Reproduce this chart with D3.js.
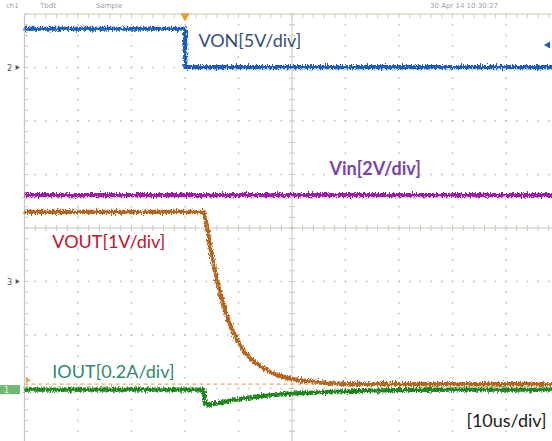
<!DOCTYPE html>
<html lang="en">
<head>
    <meta charset="UTF-8">
    <title>Load switch turn-off</title>
    <script src="https://d3js.org/d3.v7.min.js"></script>
    <style>
        body { margin: 0; background: #fff; }
        svg { display: block; }
    </style>
</head>
<body>
<script>
    // time in us, 10us/div, 10 divisions
    const timeRange = [0, 100];

    // VON (5V/div), ground at +3 div
    const vonTime = [0, 30, 30.05, 100];
    const vonVolt = [3.62, 3.62, 0.03, 0.03];

    // Vin (2V/div), ground at -1 div
    const vinTime = [0, 100];
    const vinVolt = [3.23, 3.23];

    // VOUT (1V/div), ground at -2.92 div
    const voutTime = [0, 33.4, 34.1, 35.0, 36.0, 37.0, 38.3, 40.0, 42.0, 45.0, 49.0, 55.0, 62.0, 100];
    const voutVolt = [3.22, 3.22, 2.95, 2.4, 1.95, 1.55, 1.15, 0.78, 0.5, 0.28, 0.12, 0.04, 0.0, 0.0];

    // IOUT (0.2A/div), ground at -3.02 div
    const ioutTime = [0, 33.4, 33.8, 34.6, 37.0, 42.0, 48.0, 55.0, 65.0, 80.0, 100];
    const ioutAmp = [0, 0, -0.054, -0.056, -0.046, -0.03, -0.018, -0.01, -0.004, 0, 0];

    const channels = [
        { name: "VON", time: vonTime, vals: vonVolt, perDiv: 5, offset: 3, color: "#1d5cba" },
        { name: "Vin", time: vinTime, vals: vinVolt, perDiv: 2, offset: -1, color: "#9c1fa6" },
        { name: "VOUT", time: voutTime, vals: voutVolt, perDiv: 1, offset: -2.92, color: "#b5651e" },
        { name: "IOUT", time: ioutTime, vals: ioutAmp, perDiv: 0.2, offset: -3.02, color: "#1e861e" }
    ];

    const labels = [
        { text: "VON[5V/div]", t: 32.5, div: 3.38, color: "#34507c", weight: "normal" },
        { text: "Vin[2V/div]", t: 57, div: 1.0, color: "#7a45a8", weight: "bold" },
        { text: "VOUT[1V/div]", t: 5.2, div: -0.38, color: "#c2132c", weight: "normal" },
        { text: "IOUT[0.2A/div]", t: 5.2, div: -2.8, color: "#2f8a6c", weight: "normal" },
        { text: "[10us/div]", t: 82.6, div: -3.72, color: "#222", weight: "normal" }
    ];

    const width = 552;
    const height = 441;

    const svg = d3.select("body").append("svg")
        .attr("width", width)
        .attr("height", height);

    const x = d3.scaleLinear().domain(timeRange).range([24.5, 559.5]);
    const y = d3.scaleLinear().domain([-4, 4]).range([442, 14]);

    // noise filter for the traces
    const defs = svg.append("defs");
    const f = defs.append("filter").attr("id", "noise")
        .attr("filterUnits", "userSpaceOnUse")
        .attr("x", 0).attr("y", 0).attr("width", width).attr("height", height);
    f.append("feTurbulence").attr("type", "fractalNoise")
        .attr("baseFrequency", "1.2 0.4").attr("numOctaves", 2).attr("seed", 3)
        .attr("result", "turb");
    f.append("feDisplacementMap").attr("in", "SourceGraphic").attr("in2", "turb")
        .attr("scale", 6).attr("xChannelSelector", "G").attr("yChannelSelector", "R");

    // faint header text at the top
    const header = svg.append("g").attr("fill", "#a0a0a0").attr("font-family", "DejaVu Sans")
        .attr("font-size", 7);
    header.append("text").attr("x", 6).attr("y", 8).text("ch1");
    header.append("text").attr("x", 40).attr("y", 8).text("Tbdt");
    header.append("text").attr("x", 96).attr("y", 8).text("Sample");
    header.append("text").attr("x", 430).attr("y", 8).text("30 Apr 14 10:30:27");

    // grid
    const grid = svg.append("g").attr("fill", "#c4c4c4");
    const majorT = d3.range(0, 101, 10);
    const majorD = d3.range(-4, 5, 1);
    const minorT = d3.range(0, 100.01, 2);
    const minorD = d3.range(-4, 4.01, 0.2);

    majorT.forEach(t => {
        if (t === 0 || t === 50) return;
        grid.selectAll(null).data(minorD).join("rect")
            .attr("x", x(t) - 0.8).attr("y", d => y(d) - 0.8)
            .attr("width", 1.6).attr("height", 1.6);
    });
    majorD.forEach(d => {
        if (d === 0 || d === 4) return;
        grid.selectAll(null).data(minorT).join("rect")
            .attr("x", t => x(t) - 0.8).attr("y", y(d) - 0.8)
            .attr("width", 1.6).attr("height", 1.6);
    });

    const axisColor = "#c9c9bd";
    // top border and left border
    svg.append("line").attr("x1", x(0)).attr("x2", width).attr("y1", y(4)).attr("y2", y(4))
        .attr("stroke", "#dcdcc8").attr("stroke-width", 1.5);
    svg.append("line").attr("x1", x(0)).attr("x2", x(0)).attr("y1", y(4)).attr("y2", height)
        .attr("stroke", axisColor).attr("stroke-width", 1.2);
    // centre axes
    svg.append("line").attr("x1", x(0)).attr("x2", width).attr("y1", y(0)).attr("y2", y(0))
        .attr("stroke", axisColor).attr("stroke-width", 1);
    svg.append("line").attr("x1", x(50)).attr("x2", x(50)).attr("y1", y(4)).attr("y2", height)
        .attr("stroke", axisColor).attr("stroke-width", 1);

    const ticks = svg.append("g").attr("stroke", axisColor).attr("stroke-width", 1);
    minorT.forEach(t => {
        ticks.append("line").attr("x1", x(t)).attr("x2", x(t)).attr("y1", y(4)).attr("y2", y(4) + 4);
        ticks.append("line").attr("x1", x(t)).attr("x2", x(t)).attr("y1", y(0) - 3).attr("y2", y(0) + 3);
    });
    minorD.forEach(d => {
        ticks.append("line").attr("x1", x(0)).attr("x2", x(0) + 4).attr("y1", y(d)).attr("y2", y(d));
        ticks.append("line").attr("x1", x(50) - 3).attr("x2", x(50) + 3).attr("y1", y(d)).attr("y2", y(d));
    });

    // VOUT reference dashed line
    svg.append("line").attr("x1", x(0)).attr("x2", width)
        .attr("y1", y(-2.92)).attr("y2", y(-2.92))
        .attr("stroke", "#e0ad78").attr("stroke-width", 1.2).attr("stroke-dasharray", "4,3");

    // traces
    const traces = svg.append("g").attr("filter", "url(#noise)");
    [channels[1], channels[2], channels[3], channels[0]].forEach(ch => {
        const pts = ch.time.map((t, i) => [t, ch.vals[i]]);
        const line = d3.line()
            .x(d => x(d[0]))
            .y(d => y(ch.offset + d[1] / ch.perDiv))
            .curve(ch.name === "VOUT" || ch.name === "IOUT" ? d3.curveMonotoneX : d3.curveLinear);
        traces.append("path").datum(pts)
            .attr("fill", "none")
            .attr("stroke", ch.color)
            .attr("stroke-width", 4.2)
            .attr("stroke-linejoin", "round")
            .attr("d", line);
    });

    // trigger marker on top
    svg.append("path")
        .attr("d", d3.symbol(d3.symbolTriangle, 40)())
        .attr("transform", `translate(${x(30)},${y(4) + 2}) rotate(180)`)
        .attr("fill", "#e8a030");
    // small cursor on VON step
    svg.append("line").attr("x1", x(30) - 3).attr("x2", x(30) + 3)
        .attr("y1", 45).attr("y2", 45).attr("stroke", "#1d5cba").attr("stroke-width", 1.2);

    // right-side marker
    svg.append("path")
        .attr("d", d3.symbol(d3.symbolTriangle, 22)())
        .attr("transform", `translate(${548},${y(3.42)}) rotate(-90)`)
        .attr("fill", "#1d5cba");

    // channel ground markers on the left
    const markers = svg.append("g").attr("font-family", "DejaVu Sans").attr("font-size", 8)
        .attr("fill", "#555");
    [[2, 3], [3, -1]].forEach(([n, d]) => {
        markers.append("text").attr("x", 7).attr("y", y(d) + 3).text(n);
        markers.append("path").attr("d", d3.symbol(d3.symbolTriangle, 10)())
            .attr("transform", `translate(${17},${y(d)}) rotate(90)`);
    });
    svg.append("rect").attr("x", 0).attr("y", y(-3.02) - 4.5).attr("width", 20).attr("height", 9)
        .attr("fill", "#6fb86f");
    svg.append("text").attr("x", 4).attr("y", y(-3.02) + 3).attr("font-family", "DejaVu Sans")
        .attr("font-size", 8).attr("fill", "#e8f4e0").text("1");
    svg.append("path").attr("d", d3.symbol(d3.symbolTriangle, 14)())
        .attr("transform", `translate(${x(0) + 3},${y(-2.92) - 4}) rotate(90)`)
        .attr("fill", "#e0a050");

    // channel labels
    svg.append("g").selectAll("text").data(labels).join("text")
        .attr("x", d => x(d.t))
        .attr("y", d => y(d.div))
        .attr("font-family", "Lato")
        .attr("font-size", 18)
        .attr("font-weight", d => d.weight)
        .attr("fill", d => d.color)
        .text(d => d.text);
</script>
</body>
</html>
